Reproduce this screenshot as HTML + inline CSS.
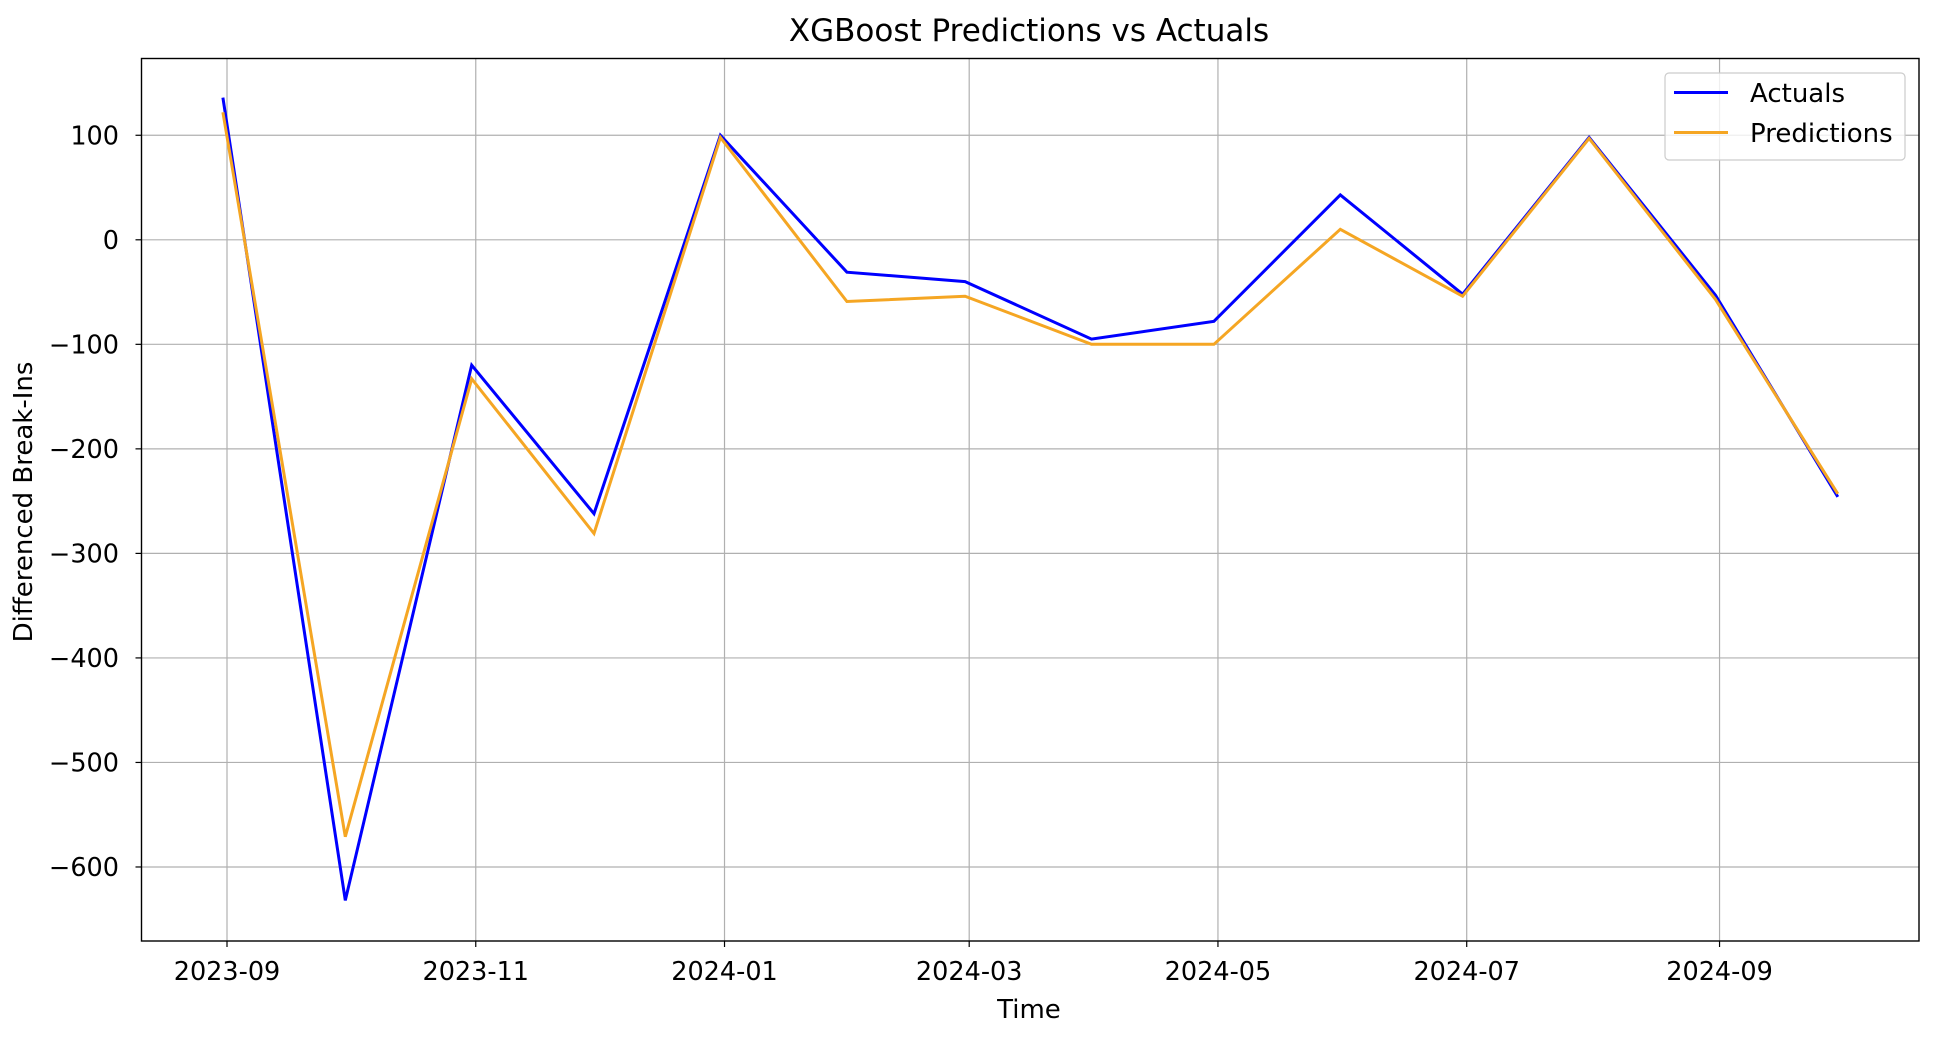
<!DOCTYPE html>
<html><head><meta charset="utf-8"><style>
html,body{margin:0;padding:0;background:#fff;}
svg{display:block;font-family:"DejaVu Sans","Liberation Sans",sans-serif;}
</style></head><body>
<svg id="chart" width="1944" height="1044" viewBox="0 0 1944 1044" xmlns="http://www.w3.org/2000/svg">
<rect x="0" y="0" width="1944" height="1044" fill="#fff"/>
<text x="1029" y="41" text-anchor="middle" font-size="31" fill="#000">XGBoost Predictions vs Actuals</text>
<g id="grid"></g>
<g id="series"></g>
<rect x="141.5" y="58.5" width="1777.5" height="882.5" fill="none" stroke="#000" stroke-width="1.4"/>
<g id="ticks"></g>
<text x="1029" y="1018" text-anchor="middle" font-size="26" fill="#000">Time</text>
<text transform="translate(32,502) rotate(-90)" text-anchor="middle" font-size="26" fill="#000">Differenced Break-Ins</text>
<g>
<rect x="1665" y="73" width="240" height="87" rx="4" fill="#fff" fill-opacity="0.8" stroke="#ccc" stroke-width="1.2"/>
<line x1="1674" y1="92.5" x2="1728" y2="92.5" stroke="#0000ff" stroke-width="3"/>
<text x="1750" y="102" font-size="26" fill="#000">Actuals</text>
<line x1="1674" y1="132.5" x2="1728" y2="132.5" stroke="#f5a623" stroke-width="3"/>
<text x="1750" y="142" font-size="26" fill="#000">Predictions</text>
</g>
</svg>
<script>
const dates = ["2023-08-31","2023-09-30","2023-10-31","2023-11-30","2023-12-31","2024-01-31","2024-02-29","2024-03-31","2024-04-30","2024-05-31","2024-06-30","2024-07-31","2024-08-31","2024-09-30"];
const actuals = [136,-632,-120,-262,100,-31,-40,-95,-78,43,-52,98,-53,-246];
const predictions = [122,-571,-133,-281,98,-59,-54,-100,-100,10,-54,97,-57,-243];
const xTickLabels = ["2023-09","2023-11","2024-01","2024-03","2024-05","2024-07","2024-09"];
const yTickValues = [100,0,-100,-200,-300,-400,-500,-600];

const NS = "http://www.w3.org/2000/svg";
const L = 141.5, R = 1919, T = 58.5, B = 941;
const t0 = Date.UTC(2023,8,1);
function xScale(d){ const t = Date.parse(d.length===7 ? d+"-01" : d); return 227 + (t - t0)/86400000*4.078; }
function yScale(v){ return 239.8 - v*1.0453; }
function mk(tag, attrs){ const e=document.createElementNS(NS,tag); for(const k in attrs) e.setAttribute(k,attrs[k]); return e; }

const grid=document.getElementById('grid'), ticks=document.getElementById('ticks'), series=document.getElementById('series');
xTickLabels.forEach(lab=>{
  const x=xScale(lab);
  const g=mk('line',{x1:x,y1:T,x2:x,y2:B,stroke:'#b0b0b0','stroke-width':1.2});
  
  
  grid.appendChild(g);
  const tk=mk('line',{x1:x,y1:B,x2:x,y2:B+6,stroke:'#000','stroke-width':1.2});
  
  
  ticks.appendChild(tk);
  const tx=mk('text',{x:x,y:980,'text-anchor':'middle','font-size':25.5,fill:'#000'});
  tx.textContent=lab;
  
  
  ticks.appendChild(tx);
});
yTickValues.forEach(v=>{
  const y=yScale(v);
  const g=mk('line',{x1:L,y1:y,x2:R,y2:y,stroke:'#b0b0b0','stroke-width':1.2});
  
  
  grid.appendChild(g);
  const tk=mk('line',{x1:L-6,y1:y,x2:L,y2:y,stroke:'#000','stroke-width':1.2});
  
  
  ticks.appendChild(tk);
  const tx=mk('text',{x:119,y:y+9,'text-anchor':'end','font-size':25.5,fill:'#000'});
  tx.textContent=(v<0?'\u2212'+Math.abs(v):String(v));
  
  
  ticks.appendChild(tx);
});
function drawLine(vals,color,name){
  const pts=vals.map((v,i)=>xScale(dates[i]).toFixed(1)+','+yScale(v).toFixed(1)).join(' ');
  const p=mk('polyline',{points:pts,fill:'none',stroke:color,'stroke-width':3,'stroke-linejoin':'miter'});
  
  
  series.appendChild(p);
}
drawLine(actuals,'#0000ff','actuals-line');
drawLine(predictions,'#f5a623','predictions-line');
</script>
</body></html>
